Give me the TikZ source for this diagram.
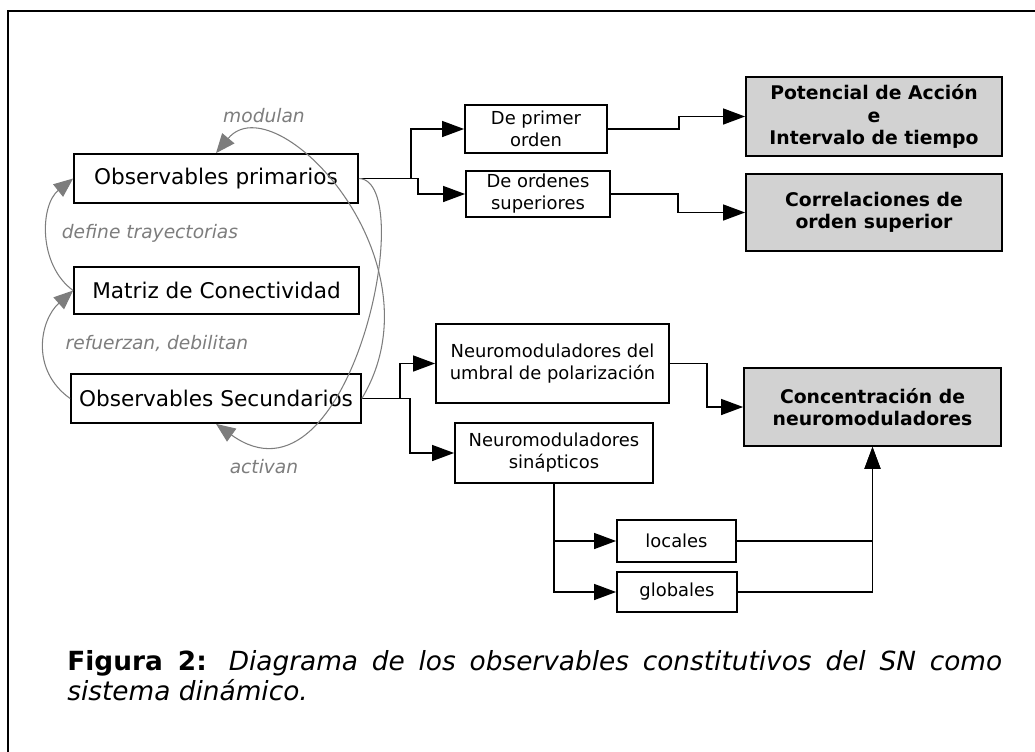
\documentclass[tikz,border=0pt]{standalone}
\usepackage{fontspec}
\setmainfont{DejaVu Sans}
\usetikzlibrary{arrows.meta}

\definecolor{grisrelleno}{RGB}{210,210,210}
\definecolor{grisetiqueta}{RGB}{125,125,125}

\hyphenpenalty=10000
\exhyphenpenalty=10000

\tikzset{
  caja/.style={draw, line width=1pt, inner sep=0pt, align=center, font=\fontsize{12.3}{14}\selectfont},
  cajachica/.style={draw, line width=1pt, inner sep=0pt, align=center, font=\fontsize{10.2}{12.5}\selectfont},
  cajagris/.style={draw, line width=1pt, fill=grisrelleno, inner sep=0pt, align=center, font=\fontsize{10.7}{12.8}\selectfont\bfseries},
  flecha/.style={line width=1pt, -{Triangle[length=12.5pt, width=9pt]}},
  curva/.style={grisetiqueta, line width=0.6pt, -{Triangle[length=11pt, width=9pt]}},
  etiqueta/.style={text=grisetiqueta, font=\fontsize{10.6}{12}\selectfont\itshape}
}

\begin{document}
\begin{tikzpicture}[x=0.02cm, y=-0.02cm]
  \useasboundingbox (0,0) rectangle (1035,751);

  % Marco de la figura
  \draw[line width=1.1pt] (1040,11) -| (8,760);

  % Observables de la izquierda
  \node[caja, minimum width=5.68cm, minimum height=0.98cm] (prim) at (216,178.5) {Observables primarios};
  \node[caja, minimum width=5.70cm, minimum height=0.94cm] (mat) at (216.5,290.5) {Matriz de Conectividad};
  \node[caja, minimum width=5.80cm, minimum height=0.98cm] (sec) at (216,398.5) {Observables Secundarios};

  % Rama de los observables primarios
  \node[cajachica, minimum width=2.84cm, minimum height=0.96cm] (uno) at (536,129) {De primer\\orden};
  \node[cajachica, minimum width=2.88cm, minimum height=0.92cm] (ordsup) at (538,194) {De ordenes\\superiores};
  \node[cajagris, minimum width=5.12cm, minimum height=1.58cm] (pot) at (874,116.5) {Potencial de Acción\\e\\Intervalo de tiempo};
  \node[cajagris, minimum width=5.12cm, minimum height=1.54cm] (corr) at (874,212.5) {Correlaciones de\\orden superior};

  % Rama de los observables secundarios
  \node[cajachica, minimum width=4.66cm, minimum height=1.58cm] (umb) at (552.5,363.5) {Neuromoduladores del\\umbral de polarización};
  \node[cajachica, minimum width=3.96cm, minimum height=1.20cm] (sin) at (554,453) {Neuromoduladores\\sinápticos};
  \node[cajagris, minimum width=5.14cm, minimum height=1.56cm] (conc) at (872.5,407) {Concentración de\\neuromoduladores};
  \node[cajachica, minimum width=2.38cm, minimum height=0.84cm] (loc) at (676.5,541) {locales};
  \node[cajachica, minimum width=2.40cm, minimum height=0.80cm] (glo) at (677,592) {globales};

  % Conectores
  \draw[flecha] (prim.east) -- ++(52,0) |- (uno.west);
  \draw[flecha] (prim.east) -- ++(59,0) |- (ordsup.west);
  \draw[flecha] (uno.east) -- ++(71,0) |- (pot.west);
  \draw[flecha] (ordsup.east) -- ++(67,0) |- (corr.west);
  \draw[flecha] (sec.east) -- ++(38,0) |- (umb.west);
  \draw[flecha] (sec.east) -- ++(48,0) |- (sin.west);
  \draw[flecha] (umb.east) -- ++(37,0) |- (conc.west);
  \draw[flecha] (sin.south) |- (loc.west);
  \draw[flecha] (sin.south) |- (glo.west);
  \draw[flecha] (loc.east) -| (conc.south);
  \draw[flecha] (glo.east) -| (conc.south);

  % Relaciones entre observables
  \draw[curva] (mat.west) .. controls (38,265) and (40,205) .. (prim.west);
  \draw[curva] (sec.west) .. controls (30,370) and (40,320) .. (mat.west);
  \draw[curva] (sec.east) .. controls (445,260) and (275,82) .. (prim.north);
  \draw[curva] (prim.east) .. controls (420,180) and (350,520) .. (sec.south);

  \node[etiqueta] (lmod) at (264,116) {modulan};
  \node[etiqueta] (ldef) at (150,233) {define trayectorias};
  \node[etiqueta] (lref) at (157,344) {refuerzan, debilitan};
  \node[etiqueta] (lact) at (264,467) {activan};

  % Pie de figura
  \node[anchor=north west, inner sep=0pt, text width=18.7cm, align=justify,
        font=\fontsize{15}{17}\selectfont] (pie) at (67,650)
        {\textbf{Figura 2:} \textit{Diagrama de los observables constitutivos del SN como sistema dinámico.}};
\end{tikzpicture}
\end{document}
